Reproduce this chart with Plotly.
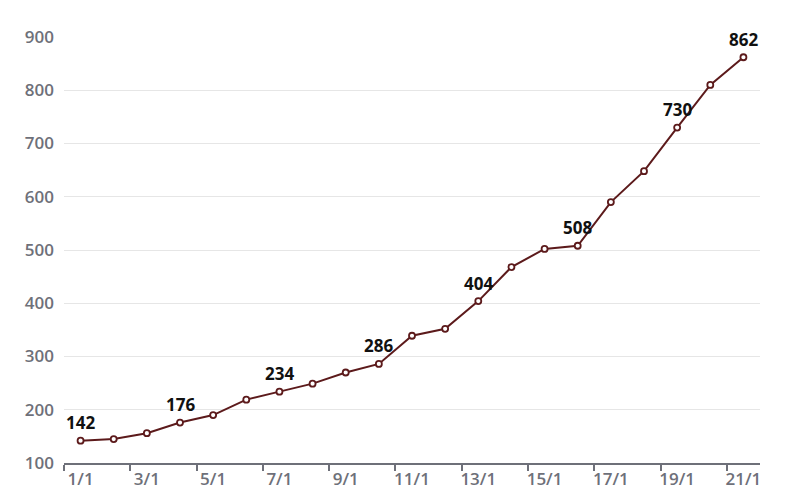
import plotly.graph_objects as go

categories = [f"{i}/1" for i in range(1, 22)]
values = [142, 145, 156, 176, 190, 219, 234, 249, 270, 286, 339, 352,
          404, 468, 502, 508, 590, 648, 730, 810, 862]
label_idx = [0, 3, 6, 9, 12, 15, 18, 20]

line_color = "#5c1a1b"

fig = go.Figure()
fig.add_trace(go.Scatter(
    x=categories, y=values, mode="lines+markers",
    line=dict(color=line_color, width=2),
    marker=dict(symbol="circle", size=6, color="white",
                line=dict(color=line_color, width=1.8)),
    cliponaxis=False, hoverinfo="skip",
))

for i in label_idx:
    fig.add_annotation(
        x=categories[i], y=values[i], text=str(values[i]),
        showarrow=False, yshift=18, xanchor="center", yanchor="middle",
        font=dict(family="Open Sans", size=17, color="#111111", weight="bold"),
    )

fig.update_layout(
    width=800, height=501,
    margin=dict(l=56, r=48, t=29, b=46, autoexpand=False),
    paper_bgcolor="white", plot_bgcolor="white",
    showlegend=False,
    font=dict(family="Open Sans"),
)
fig.update_xaxes(
    type="category", tickson="boundaries", dtick=2, tickangle=0,
    automargin=False,
    showgrid=False, showline=True, linecolor="#6e7079", linewidth=1.5,
    ticks="outside", ticklen=6, tickcolor="#6e7079", tickwidth=1.5,
    tickfont=dict(size=17, color="#6e7079", weight=600),
    range=[-0.5, 20.5],
)
fig.update_yaxes(
    range=[100, 900], dtick=100, showline=False, zeroline=False,
    automargin=False,
    showgrid=True, gridcolor="#e6e6e6", gridwidth=1,
    tickfont=dict(size=17, color="#6e7079", weight=600),
    ticklabelstandoff=9,
)

fig.write_html("out.html")
